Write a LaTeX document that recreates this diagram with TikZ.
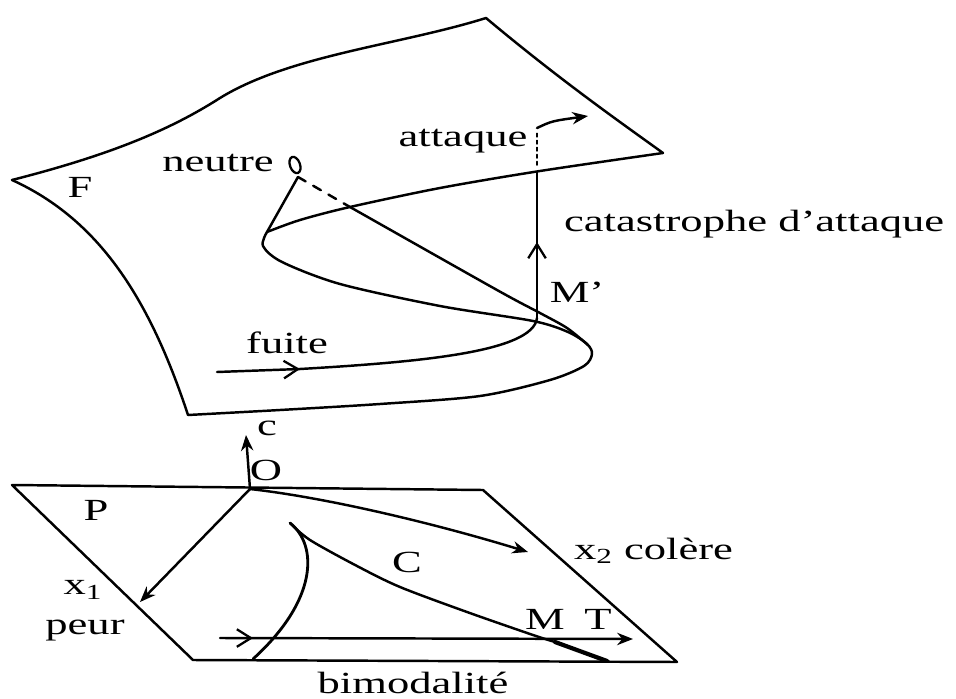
\documentclass[tikz,border=0pt]{standalone}
\usepackage{fontspec}
\setmainfont{Liberation Serif}[FakeStretch=1.45]
\usetikzlibrary{arrows.meta,decorations.markings,calc}

\tikzset{
  edge/.style={line width=1.4pt, line cap=round, line join=round},
  lbl/.style={font=\fontsize{17.5}{20}\selectfont, inner sep=1pt},
  barb/.style={postaction={decorate}, decoration={markings,
      mark=at position #1 with {\arrow{Straight Barb[length=8pt,width=10pt,line width=1.3pt]}}}},
}

\begin{document}
\begin{tikzpicture}[x=0.02cm, y=-0.02cm, >={Stealth[length=9pt,width=7pt]}]
  \useasboundingbox (0,0) rectangle (956,699);
  % ================================================================== the folded surface F
  \coordinate (Fcusp) at (12,180);
  \coordinate (Ftop) at (486,18);
  \coordinate (Fright) at (663,153);
  \coordinate (fold) at (267,232);
  \coordinate (Fbot) at (188,415);
  \coordinate (neutre) at (298,177);
  \coordinate (hide) at (350,207);
  \coordinate (bulge) at (588,345);
  \coordinate (Mp) at (537,318);
  \coordinate (Mpup) at (537,172);
  \draw[edge] (Fcusp) .. controls (110,155) and (170,130) .. (220,98)
       .. controls (290,55) and (400,45) .. (Ftop)
       .. controls (560,80) and (620,122) .. (Fright);
  \draw[edge] plot[smooth] coordinates {(Fright) (540,171) (440,188) (hide) (300,220) (fold)};
  \draw[edge] plot[smooth] coordinates {(fold) (263,246) (282,262) (340,284) (440,306) (533,321)
       (568,332) (587,344) (592,354) (584,366) (550,380) (480,396) (380,404) (280,410) (Fbot)};
  \draw[edge] (Fbot) .. controls (150,300) and (100,220) .. (Fcusp);
  % neutre and the hidden fold line
  \draw[edge, line width=1.3pt] (295,165) ellipse [x radius=0.1cm, y radius=0.17cm, rotate=20];
  \draw[edge] (neutre) -- (fold);
  \draw[edge, dash pattern=on 5pt off 5pt] (neutre) -- (hide);
  \draw[edge] plot[smooth] coordinates {(hide) (497,290) (540,313) (567,328) (bulge)};
  % fuite, then catastrophe d'attaque
  \coordinate (fs) at (217,372);
  \coordinate (fa) at (300,369);
  \draw[edge, barb=1] (fs) -- (fa);
  \draw[edge] (fa) .. controls (420,362) and (533,352) .. (Mp);
  \draw[edge, barb=0.52] (Mp) -- (Mpup);
  \draw[edge, line width=0.9pt, dash pattern=on 2pt off 2pt] (537,165) -- (537,133);
  \draw[edge, ->] (537,128) .. controls (552,121) .. (588,116);
  \node[lbl] (lF) at (80,187) {F};
  \node[lbl] (lneutre) at (218,163) {neutre};
  \node[lbl] (lattaque) at (463,141) {attaque};
  \node[lbl, anchor=west] (lcat) at (562,224) {catastrophe d'attaque};
  \node[lbl] (lMp) at (577,292) {M'};
  \node[lbl] (lfuite) at (287,343) {fuite};
  % ================================================================== the control plane P
  \coordinate (O) at (250,489);
  \coordinate (Ptl) at (12,485);
  \coordinate (Ptr) at (483,490);
  \coordinate (Pbr) at (677,662);
  \coordinate (Pbl) at (193,660);
  \draw[edge] (Ptl) -- (Ptr) -- (Pbr) -- (Pbl) -- cycle;
  \draw[edge, ->] (O) -- (246,435);
  \draw[edge, ->] (O) -- (140,602);
  \draw[edge, ->] (O) .. controls (330,498) and (440,525) .. (528,552);
  \node[lbl] (lc) at (267,428) {c};
  \node[lbl] (lO) at (266,470) {O};
  \node[lbl] (lP) at (96,510) {P};
  \node[lbl] (lx) at (83,590) {x\textsubscript{1}};
  \node[lbl] (lpeur) at (85,631) {peur};
  \node[lbl, anchor=west] (lcolere) at (572,551) {x\textsubscript{2} colère};
  % cusp C
  \coordinate (cusp) at (290,523);
  \coordinate (Ms) at (555,642);
  \draw[edge, line width=1.6pt] (cusp) .. controls (318,545) and (318,600) .. (253,659);
  \draw[edge] plot[smooth] coordinates {(cusp) (310,540) (357,566) (400,587) (467,612) (533,635)
       (Ms)};
  \draw[edge, line width=2.4pt] (Ms) -- (607,661);
  \node[lbl] (lC) at (407,562) {C};
  \node[lbl] (lM) at (545,619) {M};
  \node[lbl] (lT) at (598,619) {T};
  % bimodalité
  \coordinate (bs) at (220,638);
  \coordinate (be) at (633,639);
  \draw[edge, ->, barb=0.08] (bs) -- (be);
  \node[lbl] (lbim) at (413,683) {bimodalité};
\end{tikzpicture}
\end{document}
